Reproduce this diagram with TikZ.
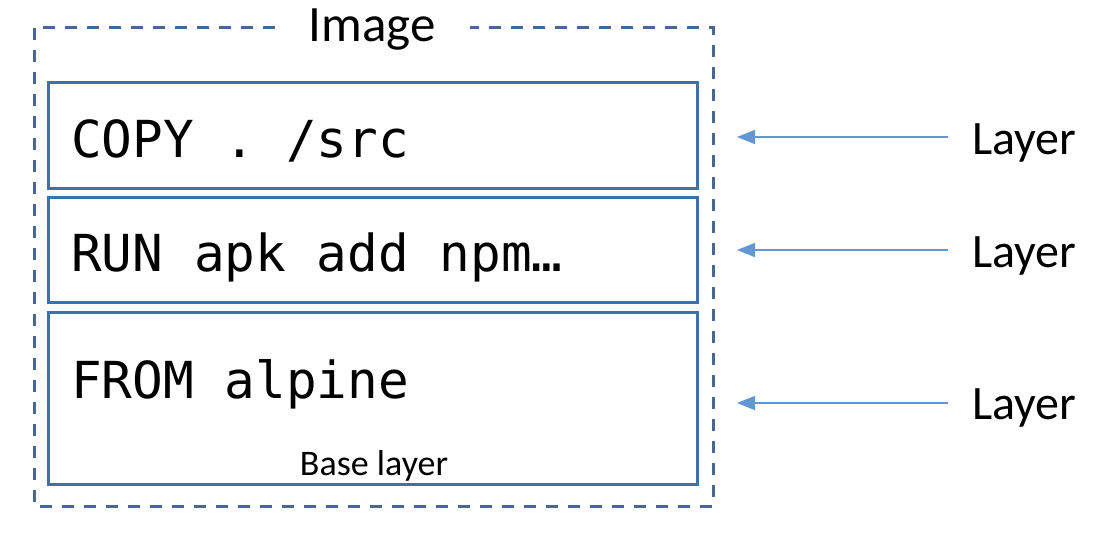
\documentclass[tikz,border=0pt]{standalone}
\usepackage{fontspec}
\setmainfont{Carlito}
\newfontfamily\monofont{DejaVu Sans Mono}
\usetikzlibrary{arrows.meta}
\definecolor{boxblue}{RGB}{60,114,170}
\definecolor{dashblue}{RGB}{72,104,148}
\definecolor{arrowblue}{RGB}{98,150,212}
\tikzset{
  layerbox/.style={draw=boxblue, line width=3pt},
  codetext/.style={anchor=base west, inner sep=0pt, font=\monofont\fontsize{51}{60}\selectfont},
  layerlabel/.style={anchor=base west, inner sep=0pt, font=\fontsize{48}{58}\selectfont},
  layerarrow/.style={draw=arrowblue, line width=1.5pt, -{Triangle[length=18pt,width=14pt]}},
}
\begin{document}
\begin{tikzpicture}[x=1pt,y=-1pt]
\useasboundingbox (0,0) rectangle (1120,542);
% outer dashed box
\draw[dashblue, line width=3pt, dash pattern=on 12pt off 10pt] (275,27) -- (34,27) -- (34,506) -- (713,506) -- (713,27) -- (470,27);
\node[inner sep=0pt, anchor=base, font=\fontsize{51}{60}\selectfont] (title) at (372,41) {Image};
% layer boxes
\draw[layerbox] (48,82) rectangle (697,188);
\draw[layerbox] (48,197) rectangle (697,302);
\draw[layerbox] (48,312) rectangle (697,484);
\node[codetext] (c1) at (71,157) {COPY . /src};
\node[codetext] (c2) at (71,271) {RUN apk add npm…};
\node[codetext] (c3) at (71,398) {FROM alpine};
\node[inner sep=0pt, anchor=base, font=\fontsize{36}{42}\selectfont] (base) at (374,475) {Base layer};
% labels
\node[layerlabel] (l1) at (972,154) {Layer};
\node[layerlabel] (l2) at (972,267) {Layer};
\node[layerlabel] (l3) at (972,419) {Layer};
\coordinate (a1s) at (948,137); \coordinate (a1e) at (737,137);
\coordinate (a2s) at (948,250); \coordinate (a2e) at (737,250);
\coordinate (a3s) at (948,403); \coordinate (a3e) at (737,403);
\draw[layerarrow] (a1s) -- (a1e);
\draw[layerarrow] (a2s) -- (a2e);
\draw[layerarrow] (a3s) -- (a3e);
\end{tikzpicture}
\end{document}
